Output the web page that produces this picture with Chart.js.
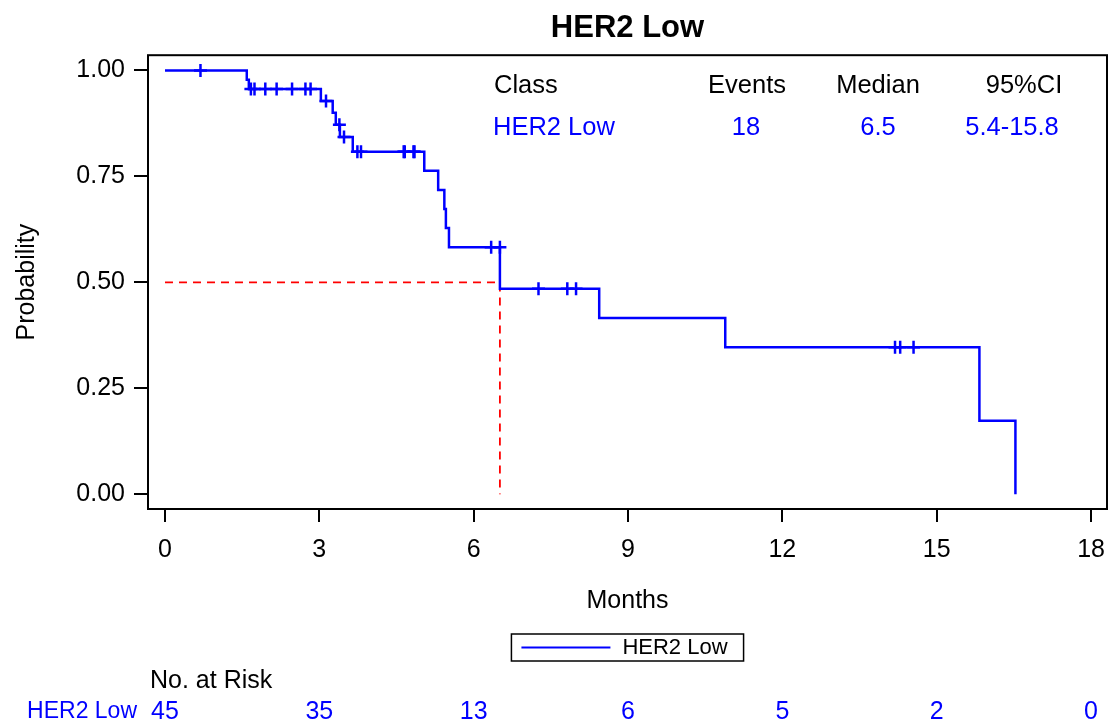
<!DOCTYPE html>
<html>
<head>
<meta charset="utf-8">
<script src="https://cdn.jsdelivr.net/npm/chart.js@4/dist/chart.umd.min.js"></script>
<style>
  html, body { margin: 0; padding: 0; background: #fff; }
  canvas { display: block; }
</style>
</head>
<body>
<canvas id="chart" width="1108" height="725"></canvas>
<script>
// Kaplan-Meier steps (months, survival after the event)
const eventMonths = [0, 1.59, 1.63, 3.03, 3.26, 3.32, 3.40, 3.65, 5.04, 5.31, 5.43, 5.46, 5.52, 6.51, 8.44, 10.89, 15.83, 16.53];
const survival    = [1, 0.978, 0.956, 0.928, 0.900, 0.872, 0.843, 0.808, 0.763, 0.718, 0.673, 0.628, 0.583, 0.485, 0.416, 0.347, 0.173, 0];

// censored subjects
const censorMonths   = [0.69, 1.67, 1.74, 1.95, 2.17, 2.47, 2.73, 2.83, 3.13, 3.39, 3.48, 3.74, 3.81, 4.64, 4.66, 4.83, 4.85, 6.34, 6.51, 7.26, 7.82, 7.99, 14.19, 14.29, 14.55];
const censorSurvival = [1, 0.956, 0.956, 0.956, 0.956, 0.956, 0.956, 0.956, 0.928, 0.872, 0.843, 0.808, 0.808, 0.808, 0.808, 0.808, 0.808, 0.583, 0.583, 0.485, 0.485, 0.485, 0.347, 0.347, 0.347];

const medianMonths = 6.51;
const xTicks = [0, 3, 6, 9, 12, 15, 18];
const yTicks = [0, 0.25, 0.5, 0.75, 1];
const atRisk = [45, 35, 13, 6, 5, 2, 0];

const insetHeader = ['Class', 'Events', 'Median', '95%CI'];
const insetRow = ['HER2 Low', '18', '6.5', '5.4-15.8'];
const groupName = 'HER2 Low';

const FONT = '"Liberation Sans", Arial, sans-serif';
const BLUE = 'rgb(0,0,255)';

const extras = {
  id: 'extras',
  afterDraw(chart) {
    const ctx = chart.ctx;
    const a = chart.chartArea;
    const xs = chart.scales.x;
    ctx.save();
    // frame
    ctx.strokeStyle = '#000';
    ctx.lineWidth = 2;
    ctx.strokeRect(a.left, a.top, a.right - a.left, a.bottom - a.top);

    // inset table
    ctx.textBaseline = 'middle';
    ctx.font = '25.5px ' + FONT;
    const headX = [494, 747, 878, 1024];
    const rowX = [493, 746, 878, 1012];
    insetHeader.forEach((t, i) => {
      ctx.fillStyle = '#000';
      ctx.textAlign = i === 0 ? 'left' : 'center';
      ctx.fillText(t, headX[i], 86);
    });
    insetRow.forEach((t, i) => {
      ctx.fillStyle = BLUE;
      ctx.textAlign = i === 0 ? 'left' : 'center';
      ctx.fillText(t, rowX[i], 128);
    });

    // legend box
    ctx.font = '22px ' + FONT;
    const tw = ctx.measureText(groupName).width;
    const bw = 10 + 89 + 12 + tw + 16;
    const bx = (a.left + a.right) / 2 - bw / 2;
    ctx.strokeStyle = '#000';
    ctx.lineWidth = 1.5;
    ctx.strokeRect(bx, 634, bw, 27);
    ctx.strokeStyle = BLUE;
    ctx.lineWidth = 2;
    ctx.beginPath();
    ctx.moveTo(bx + 10, 647.5);
    ctx.lineTo(bx + 99, 647.5);
    ctx.stroke();
    ctx.fillStyle = '#000';
    ctx.textAlign = 'left';
    ctx.fillText(groupName, bx + 111, 648);

    // numbers at risk
    ctx.font = '25px ' + FONT;
    ctx.fillText('No. at Risk', 150, 681);
    ctx.fillStyle = BLUE;
    ctx.font = '23px ' + FONT;
    ctx.textAlign = 'right';
    ctx.fillText(groupName, 137, 712);
    ctx.font = '25px ' + FONT;
    ctx.textAlign = 'center';
    atRisk.forEach((n, i) => {
      ctx.fillText(String(n), xs.getPixelForValue(xTicks[i]), 712);
    });
    ctx.restore();
  }
};

new Chart(document.getElementById('chart'), {
  type: 'line',
  data: {
    datasets: [
      {
        label: groupName,
        data: eventMonths.map((m, i) => ({ x: m, y: survival[i] })),
        stepped: true,
        borderColor: BLUE,
        borderWidth: 2.5,
        pointRadius: 0,
        fill: false
      },
      {
        label: 'Censored',
        data: censorMonths.map((m, i) => ({ x: m, y: censorSurvival[i] })),
        showLine: false,
        pointStyle: 'cross',
        pointRadius: 6.5,
        pointBorderWidth: 2.5,
        pointBorderColor: BLUE,
        borderColor: BLUE
      },
      {
        label: 'Median',
        data: [{ x: 0, y: 0.5 }, { x: medianMonths, y: 0.5 }, { x: medianMonths, y: 0 }],
        borderColor: 'rgb(255,0,0)',
        borderWidth: 1.8,
        borderDash: [8, 6],
        pointRadius: 0,
        fill: false
      }
    ]
  },
  options: {
    responsive: false,
    animation: false,
    devicePixelRatio: 1,
    events: [],
    layout: { autoPadding: false, padding: { left: 0, right: 1, top: 0, bottom: 106 } },
    plugins: {
      legend: { display: false },
      tooltip: { enabled: false },
      title: {
        display: true,
        text: 'HER2 Low',
        fullSize: false,
        color: '#000',
        font: { family: FONT, size: 31, weight: 'bold' },
        padding: { top: 10, bottom: 8 }
      }
    },
    scales: {
      x: {
        type: 'linear',
        min: -0.33,
        max: 18.31,
        afterBuildTicks: s => { s.ticks = xTicks.map(v => ({ value: v })); },
        afterFit: s => { s.height = 110; s.paddingLeft = 0; s.paddingRight = 0; },
        ticks: { color: '#000', font: { family: FONT, size: 25 }, padding: 13, callback: v => v },
        grid: { drawOnChartArea: false, tickLength: 13, color: '#000', lineWidth: 2 },
        border: { display: false },
        title: { display: true, text: 'Months', color: '#000', font: { family: FONT, size: 25 }, padding: { top: 0, bottom: 3 } }
      },
      y: {
        type: 'linear',
        min: -0.035,
        max: 1.036,
        afterBuildTicks: s => { s.ticks = yTicks.map(v => ({ value: v })); },
        afterFit: s => { s.width = 148; s.paddingTop = 0; s.paddingBottom = 0; },
        ticks: { color: '#000', font: { family: FONT, size: 25 }, padding: 9, callback: v => v.toFixed(2) },
        grid: { drawOnChartArea: false, tickLength: 14, color: '#000', lineWidth: 2 },
        border: { display: false },
        title: { display: true, text: 'Probability', color: '#000', font: { family: FONT, size: 25 }, padding: { top: 12, bottom: 0 } }
      }
    }
  },
  plugins: [extras]
});
</script>
</body>
</html>
